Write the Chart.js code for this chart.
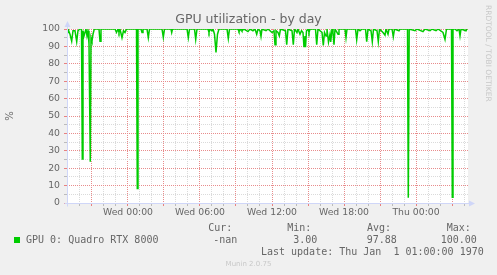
<!DOCTYPE html>
<html><head><meta charset="utf-8">
<script src="https://cdn.jsdelivr.net/npm/chart.js@4.4.1/dist/chart.umd.min.js"></script>
<style>
html,body{margin:0;padding:0;background:#f0f0f0;}
#wrap{position:relative;width:497px;height:275px;overflow:hidden;background:#f0f0f0;}
#c{position:absolute;left:0;top:0;}
.m{position:absolute;font-family:"DejaVu Sans Mono",monospace;font-size:10px;line-height:10px;color:#666;white-space:pre;}
#title{position:absolute;left:0;top:12px;width:497px;text-align:center;font-family:"DejaVu Sans",sans-serif;font-size:12.5px;line-height:13px;color:#666;white-space:pre;}
#rrd{position:absolute;left:484px;top:5px;font-family:"DejaVu Sans",sans-serif;font-size:7.5px;line-height:8px;color:#c8c8c8;writing-mode:vertical-rl;white-space:pre;}
#munin{position:absolute;left:0;top:260px;width:497px;text-align:center;font-family:"DejaVu Sans",sans-serif;font-size:7px;line-height:8px;color:#c8c8c8;white-space:pre;}
#box{position:absolute;left:14px;top:237px;width:6px;height:6px;}
</style></head>
<body>
<div id="wrap">
<canvas id="c" width="497" height="275"></canvas>
<div id="title"></div>
<div id="rrd"></div>
<div id="box"></div>
<div id="legend"></div>
<div id="munin"></div>
</div>
<script>
// ---- data ----
const chartTitle = 'GPU utilization - by day';
const yAxisTitle = '%';
const seriesName = 'GPU 0: Quadro RTX 8000';
const seriesColor = '#00cc00';
// hours relative to Wed 00:00
const hours = [
 -5.083,-5.0,-4.833,-4.692,-4.583,-4.417,-4.275,-4.167,-4.0,-3.875,-3.808,-3.75,-3.667,-3.5,-3.417,-3.333,-3.25,-3.142,-3.083,-3.0,-2.917,-2.808,
 -2.417,-2.333,-2.25,-1.083,-0.958,-0.833,-0.75,-0.667,-0.5,-0.375,-0.25,-0.125,
 0.708,0.775,0.833,1.083,1.167,1.25,1.583,1.692,1.792,2.833,2.942,3.042,3.583,3.642,3.708,
 4.917,5.025,5.125,5.542,5.642,5.75,6.667,6.75,6.833,7.0,7.083,7.208,7.333,7.458,7.583,
 8.25,8.358,8.458,9.167,9.25,9.417,9.5,9.667,10.0,10.167,10.417,10.583,10.725,10.833,11.0,11.083,11.167,
 11.5,11.667,12.0,12.167,12.25,12.333,12.5,12.608,12.708,13.125,13.225,13.333,13.667,13.775,13.875,
 14.083,14.167,14.333,14.458,14.583,14.667,14.75,14.792,14.875,15.0,15.083,15.167,15.625,15.725,15.833,
 16.0,16.167,16.275,16.375,16.5,16.583,16.708,16.833,16.892,17.0,17.083,17.167,17.25,17.5,17.583,
 18.083,18.167,18.25,18.958,19.058,19.167,19.333,19.5,19.792,19.892,20.0,20.25,20.358,20.458,
 20.75,20.858,20.958,21.25,21.417,21.5,21.667,21.75,22.0,22.108,22.208,22.583,22.667,
 23.292,23.358,23.433,23.917,24.083,24.583,24.75,25.167,25.333,25.667,25.833,
 26.25,26.417,26.542,26.958,27.025,27.083,27.25,27.417,27.583,27.667,27.75,28.167,28.25
];
const gpuUtil = [
 98,100,97,93,99,99,92.7,99,100,100,25.3,99,96,100,96,99,91.5,23.7,95,93,97,100,
 100,93,100,100,98,100,98,100,95,99,98,100,
 100,8.4,100,100,98,100,100,95,100,100,95.2,100,100,98,100,
 100,95,100,100,94,100,100,98,100,99,100,97,86.6,97,100,
 100,94.5,100,100,98.5,100,99,100,98.5,100,99,100,97,100,99,95.7,100,
 99,100,98,99,91,99,98,96,100,99,91,100,99,91,100,
 98,100,97,99,98,89.5,96,89.5,99,100,98,100,100,91,100,
 99,98,90.5,98,96,100,92.5,97,92.5,100,98,91,100,97,100,
 100,95,100,100,93.8,100,99,100,100,92.7,100,99,92.7,100,
 99,92.7,100,98,96.5,100,97,100,100,95.5,100,99,100,
 100,3,100,99,100,98.5,100,99,100,99,100,
 98,94,100,100,3.3,100,100,99,100,96,100,99,100
];
const xRange = [-5.083, 28.333];
const xTickHours = [0, 6, 12, 18, 24];
const xTickLabels = ['Wed 00:00', 'Wed 06:00', 'Wed 12:00', 'Wed 18:00', 'Thu 00:00'];
const yTickValues = [0, 10, 20, 30, 40, 50, 60, 70, 80, 90, 100];
const statLabels = ['Cur:', 'Min:', 'Avg:', 'Max:'];
const statValues = ['-nan', '3.00', '97.88', '100.00'];
const lastUpdate = 'Last update: Thu Jan  1 01:00:00 1970';
const watermark = 'RRDTOOL / TOBI OETIKER';
const footer = 'Munin 2.0.75';

// ---- text (HTML) ----
document.getElementById('title').textContent = chartTitle;
document.getElementById('rrd').textContent = watermark;
document.getElementById('munin').textContent = footer;
document.getElementById('box').style.background = seriesColor;
const leg = document.getElementById('legend');
function addText(txt, left, top) {
  const d = document.createElement('div');
  d.className = 'm'; d.textContent = txt;
  d.style.left = left + 'px'; d.style.top = top + 'px';
  leg.appendChild(d);
}
const labelLefts = [208.3, 287.3, 367, 446.7];
const valueRights = [237.4, 317.4, 396.8, 476.8];
statLabels.forEach((s, i) => addText(s, labelLefts[i], 222.5));
addText(seriesName, 26, 235);
statValues.forEach((s, i) => addText(s, valueRights[i] - s.length * 6.02, 235));
addText(lastUpdate, 483.7 - lastUpdate.length * 6.02, 246.6);

// ---- chart ----
const RED = '#e88c8c';
const GREY = '#dadada';
const AXIS = '#cfd6f8';
const FONT = {family: '"DejaVu Sans", sans-serif', size: 9.3};

const decor = {
  id: 'decor',
  beforeDraw(chart) {
    const {ctx, chartArea: a} = chart;
    ctx.save();
    ctx.fillStyle = '#ffffff';
    ctx.fillRect(a.left, a.top, a.right - a.left, a.bottom - a.top);
    ctx.restore();
  },
  afterDatasetsDraw(chart) {
    const {ctx, chartArea: a} = chart;
    ctx.save();
    ctx.strokeStyle = AXIS; ctx.fillStyle = AXIS; ctx.lineWidth = 1;
    const x0 = Math.round(a.left) + 0.5, y0 = Math.round(a.bottom) + 0.5;
    ctx.beginPath();
    ctx.moveTo(x0, y0 + 3); ctx.lineTo(x0, a.top - 3);
    ctx.moveTo(x0 - 3, y0); ctx.lineTo(a.right + 2, y0);
    ctx.stroke();
    ctx.beginPath();
    ctx.moveTo(x0 - 3, a.top - 2); ctx.lineTo(x0 + 3, a.top - 2); ctx.lineTo(x0, a.top - 8); ctx.closePath();
    ctx.fill();
    ctx.beginPath();
    ctx.moveTo(a.right + 1, y0 - 3); ctx.lineTo(a.right + 1, y0 + 3); ctx.lineTo(a.right + 7, y0); ctx.closePath();
    ctx.fill();
    ctx.restore();
  }
};

new Chart(document.getElementById('c'), {
  type: 'line',
  data: {
    datasets: [{
      label: seriesName,
      data: hours.map((h, i) => ({x: h, y: gpuUtil[i]})),
      borderColor: seriesColor,
      borderWidth: 1.5,
      pointRadius: 0,
      tension: 0,
      fill: false
    }]
  },
  options: {
    responsive: false,
    animation: false,
    devicePixelRatio: 1,
    layout: {padding: {left: 0, right: 29, top: 29, bottom: 0}},
    plugins: {legend: {display: false}, title: {display: false}, tooltip: {enabled: false}},
    scales: {
      x: {
        type: 'linear',
        min: xRange[0], max: xRange[1],
        afterBuildTicks(s) {
          const t = [];
          for (let h = Math.ceil(s.min); h <= s.max; h++) t.push({value: h});
          s.ticks = t;
        },
        afterFit(s) { s.height = 72; },
        ticks: {
          autoSkip: false, maxRotation: 0, minRotation: 0, padding: 1,
          font: FONT, color: '#666',
          callback(v) { const i = xTickHours.indexOf(v); return i >= 0 ? xTickLabels[i] : ''; }
        },
        grid: {
          color: c => (c.tick && ((c.tick.value % 3) + 3) % 3 === 0) ? RED : GREY,
          tickColor: c => (c.tick && ((c.tick.value % 3) + 3) % 3 === 0) ? '#e88080' : '#bbbbbb',
          lineWidth: 1, tickLength: 3, drawTicks: true
        },
        border: {display: false, dash: [1, 1]}
      },
      y: {
        type: 'linear',
        min: 0, max: 100,
        afterBuildTicks(s) {
          const t = [];
          for (let v = 0; v <= 100; v += 5) t.push({value: v});
          s.ticks = t;
        },
        afterFit(s) { s.width = 67; },
        ticks: {
          autoSkip: false, padding: 4, font: FONT, color: '#666',
          callback(v) { return yTickValues.includes(v) ? String(v) : ''; }
        },
        title: {display: true, text: yAxisTitle, font: {family: '"DejaVu Sans", sans-serif', size: 10}, color: '#666', padding: {top: 4.5, bottom: 0}},
        grid: {
          color: c => (c.tick && c.tick.value % 10 === 0) ? RED : GREY,
          tickColor: c => (c.tick && c.tick.value % 10 === 0) ? '#e88080' : '#bbbbbb',
          lineWidth: 1, tickLength: 3, drawTicks: true
        },
        border: {display: false, dash: [1, 1]}
      }
    }
  },
  plugins: [decor]
});
</script>
</body></html>
